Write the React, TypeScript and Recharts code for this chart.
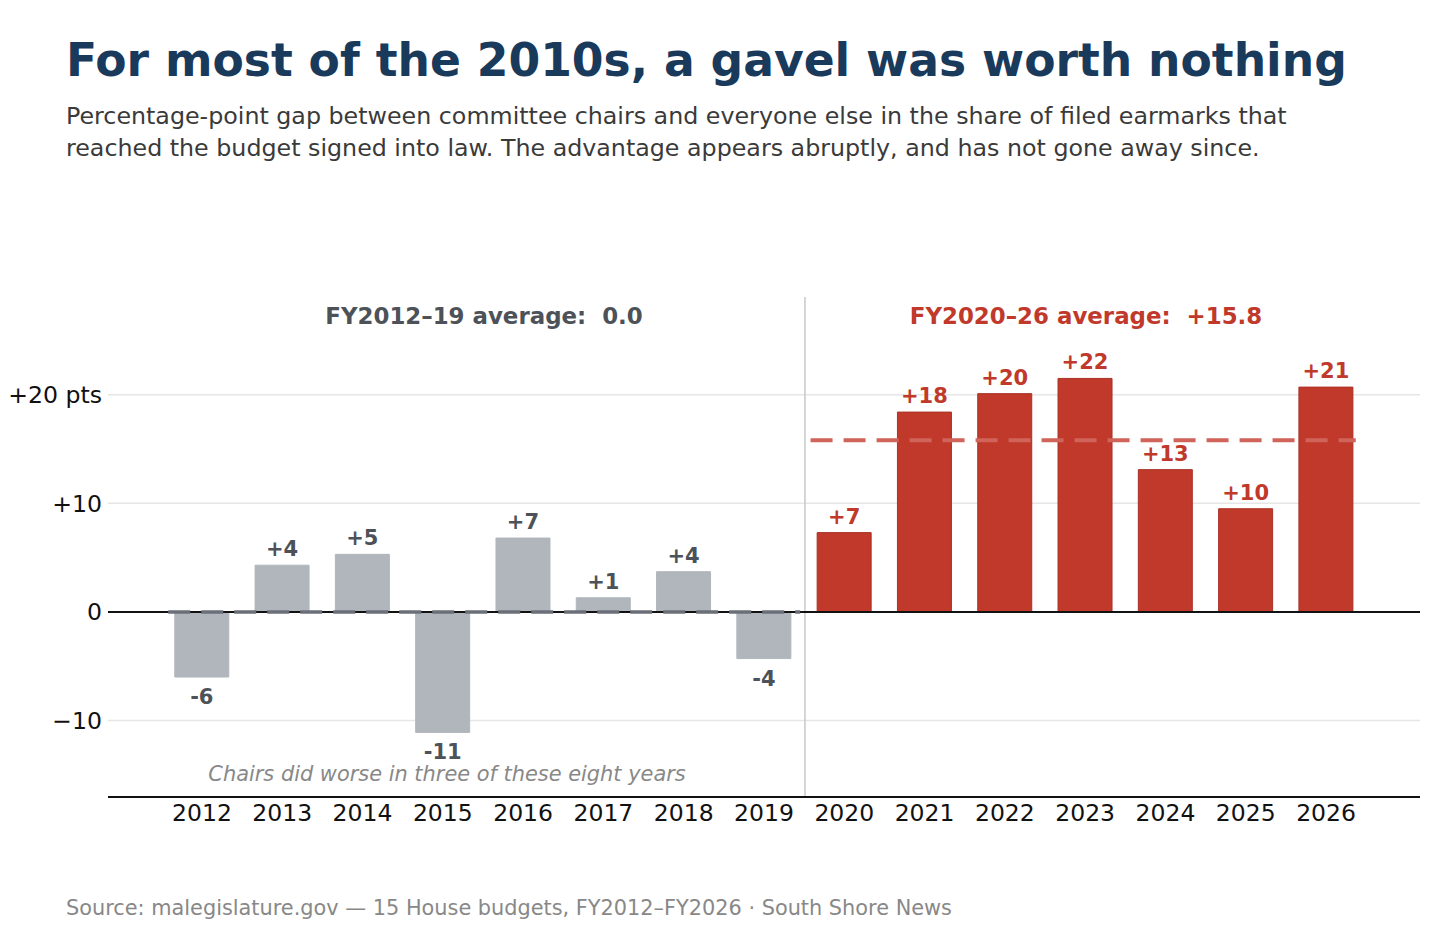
import React from 'react'
import {
  BarChart, Bar, XAxis, YAxis, CartesianGrid, ReferenceLine, Cell, LabelList,
} from 'recharts'

const YEARS = [2012, 2013, 2014, 2015, 2016, 2017, 2018, 2019, 2020, 2021, 2022, 2023, 2024, 2025, 2026]
const GAP = [-6.0, 4.3, 5.3, -11.1, 6.8, 1.3, 3.7, -4.3, 7.3, 18.4, 20.1, 21.5, 13.1, 9.5, 20.7]
const Y_TICKS = [-10, 0, 10, 20]
const GRID_VALUES = [-10, 10, 20]
const EARLY_AVG = 0.0
const LATE_AVG = 15.8

const FONT = '"DejaVu Sans", sans-serif'
const GRAY = '#b1b6bc'
const RED = '#c0392b'
const GRAY_TEXT = '#4d5259'

const data = YEARS.map((year, i) => ({ year, gap: GAP[i] }))

function fmtTick(v: number) {
  if (v === 20) return '+20 pts'
  if (v > 0) return `+${v}`
  if (v < 0) return `\u2212${Math.abs(v)}`
  return '0'
}

function BarLabel(props: any) {
  const { x, y, width, height, value, index } = props
  const top = Math.min(y, y + height)
  const bottom = Math.max(y, y + height)
  const late = YEARS[index] >= 2020
  const r = Math.round(value)
  const text = value >= 0 ? `+${r}` : `${r}`
  return (
    <text
      x={x + width / 2}
      y={value >= 0 ? top - 9 : bottom + 27}
      textAnchor="middle"
      fontFamily={FONT}
      fontSize={21}
      fontWeight="bold"
      fill={late ? RED : GRAY_TEXT}
    >
      {text}
    </text>
  )
}

export default function App() {
  return (
    <div style={{
      position: 'absolute', left: 0, top: 0, width: 1456, height: 943,
      background: 'white', fontFamily: FONT, overflow: 'hidden',
    }}>
      <div style={{
        position: 'absolute', left: 66, top: 35, fontSize: 45.6, fontWeight: 'bold',
        color: '#1a3a5c', whiteSpace: 'nowrap', lineHeight: 1.15,
      }}>
        For most of the 2010s, a gavel was worth nothing
      </div>
      <div style={{
        position: 'absolute', left: 66, top: 100, fontSize: 23.75, color: '#3a3a3a',
        lineHeight: '32px', whiteSpace: 'nowrap',
      }}>
        Percentage-point gap between committee chairs and everyone else in the share of filed earmarks that<br />
        reached the budget signed into law. The advantage appears abruptly, and has not gone away since.
      </div>

      <div style={{ position: 'absolute', left: 0, top: 0 }}>
        <BarChart
          width={1456}
          height={943}
          data={data}
          margin={{ top: 297, right: 36, bottom: 0, left: 8 }}
        >
          <CartesianGrid
            horizontal
            vertical={false}
            horizontalValues={GRID_VALUES}
            stroke="#e6e6e6"
            strokeWidth={1.5}
          />
          <XAxis
            dataKey="year"
            type="number"
            domain={[2010.83, 2027.17]}
            ticks={YEARS}
            allowDataOverflow
            height={146}
            tickSize={0}
            tickMargin={7}
            axisLine={{ stroke: '#111', strokeWidth: 2 }}
            tickLine={false}
            tick={{ fontFamily: FONT, fontSize: 23.5, fill: '#111' }}
          />
          <YAxis
            type="number"
            domain={[-17.05, 29]}
            ticks={Y_TICKS}
            allowDataOverflow
            width={100}
            tickSize={0}
            tickMargin={6}
            axisLine={false}
            tickLine={false}
            tickFormatter={fmtTick}
            tick={{ fontFamily: FONT, fontSize: 23.6, fill: '#111' }}
          />
          <ReferenceLine x={2019.51} stroke="#c8c8c8" strokeWidth={1.5} />
          <Bar dataKey="gap" barSize={54} isAnimationActive={false}>
            {data.map((d, i) => (
              <Cell
                key={`c-${i}`}
                fill={d.year >= 2020 ? RED : GRAY}
                stroke={d.year >= 2020 ? '#a93226' : GRAY}
                strokeWidth={1}
              />
            ))}
            <LabelList dataKey="gap" content={<BarLabel />} />
          </Bar>
          <ReferenceLine y={0} stroke="#111" strokeWidth={2} />
          <ReferenceLine
            segment={[{ x: 2011.58, y: EARLY_AVG }, { x: 2019.45, y: EARLY_AVG }]}
            stroke="#6b7078"
            strokeWidth={3.5}
            strokeDasharray="22 11"
          />
          <ReferenceLine
            segment={[{ x: 2019.58, y: LATE_AVG }, { x: 2026.37, y: LATE_AVG }]}
            stroke="#d0645b"
            strokeWidth={4}
            strokeDasharray="22 11"
          />
        </BarChart>
      </div>

      <div style={{
        position: 'absolute', left: 484, top: 303, transform: 'translateX(-50%)',
        fontSize: 22.9, fontWeight: 'bold', color: GRAY_TEXT, whiteSpace: 'pre',
      }}>
        {`FY2012\u201319 average:  ${EARLY_AVG.toFixed(1)}`}
      </div>
      <div style={{
        position: 'absolute', left: 1086, top: 303, transform: 'translateX(-50%)',
        fontSize: 22.9, fontWeight: 'bold', color: RED, whiteSpace: 'pre',
      }}>
        {`FY2020\u201326 average:  +${LATE_AVG.toFixed(1)}`}
      </div>
      <div style={{
        position: 'absolute', left: 447, top: 763, transform: 'translateX(-50%)',
        fontSize: 20.9, fontStyle: 'italic', color: '#888', whiteSpace: 'nowrap',
        lineHeight: '22px',
      }}>
        Chairs did worse in three of these eight years
      </div>
      <div style={{
        position: 'absolute', left: 66, top: 896, fontSize: 20.85, color: '#888',
        whiteSpace: 'nowrap',
      }}>
        Source: malegislature.gov — 15 House budgets, FY2012–FY2026 · South Shore News
      </div>
    </div>
  )
}
